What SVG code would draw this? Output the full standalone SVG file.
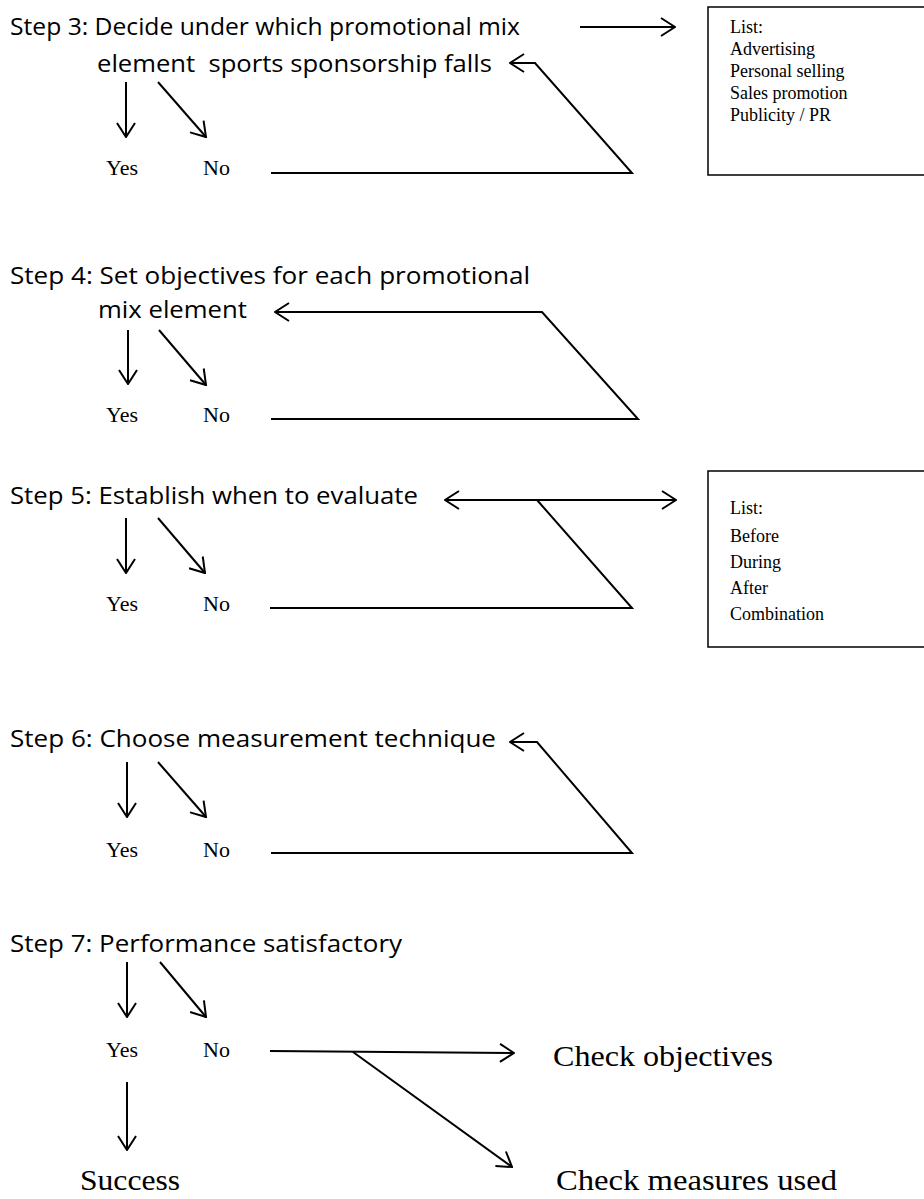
<svg xmlns="http://www.w3.org/2000/svg" width="924" height="1199" viewBox="0 0 924 1199">
<style>
.step{font-family:"Open Sans","Liberation Sans",sans-serif;font-size:24px;fill:#000;white-space:pre}
.yn{font-family:"Liberation Serif",serif;font-size:22px;fill:#000}
.lst{font-family:"Liberation Serif",serif;font-size:18px;fill:#000}
.big{font-family:"Liberation Serif",serif;font-size:30px;fill:#000}
.ln{fill:none;stroke:#000;stroke-width:2}
.box{fill:none;stroke:#000;stroke-width:1.5}
</style>
<defs>
<marker id="ah" viewBox="0 0 16 20" refX="15" refY="10" markerWidth="16" markerHeight="20" markerUnits="userSpaceOnUse" orient="auto-start-reverse">
<path d="M1,1 L15,10 L1,19" fill="none" stroke="#000" stroke-width="2"/>
</marker>
</defs>
<g id="step3">
<text class="step" x="10" y="35" textLength="510" lengthAdjust="spacingAndGlyphs">Step 3: Decide under which promotional mix</text>
<text class="step" x="97" y="72" textLength="395" lengthAdjust="spacingAndGlyphs">element  sports sponsorship falls</text>
<text class="yn" x="106" y="175">Yes</text>
<text class="yn" x="203" y="175">No</text>
</g>
<g id="list1">
<rect class="box" x="708" y="7" width="230" height="168"/>
<text class="lst" x="730" y="33">List:</text>
<text class="lst" x="730" y="55">Advertising</text>
<text class="lst" x="730" y="77">Personal selling</text>
<text class="lst" x="730" y="99">Sales promotion</text>
<text class="lst" x="730" y="121">Publicity / PR</text>
</g>
<g id="step4">
<text class="step" x="10" y="284" textLength="520" lengthAdjust="spacingAndGlyphs">Step 4: Set objectives for each promotional</text>
<text class="step" x="98" y="318" textLength="149" lengthAdjust="spacingAndGlyphs">mix element</text>
<text class="yn" x="106" y="422">Yes</text>
<text class="yn" x="203" y="422">No</text>
</g>
<g id="step5">
<text class="step" x="10" y="504" textLength="408" lengthAdjust="spacingAndGlyphs">Step 5: Establish when to evaluate</text>
<text class="yn" x="106" y="611">Yes</text>
<text class="yn" x="203" y="611">No</text>
</g>
<g id="list2">
<rect class="box" x="708" y="471" width="230" height="176"/>
<text class="lst" x="730" y="514">List:</text>
<text class="lst" x="730" y="542">Before</text>
<text class="lst" x="730" y="568">During</text>
<text class="lst" x="730" y="594">After</text>
<text class="lst" x="730" y="620">Combination</text>
</g>
<g id="step6">
<text class="step" x="10" y="747" textLength="486" lengthAdjust="spacingAndGlyphs">Step 6: Choose measurement technique</text>
<text class="yn" x="106" y="857">Yes</text>
<text class="yn" x="203" y="857">No</text>
</g>
<g id="step7">
<text class="step" x="10" y="952" textLength="392" lengthAdjust="spacingAndGlyphs">Step 7: Performance satisfactory</text>
<text class="yn" x="106" y="1057">Yes</text>
<text class="yn" x="203" y="1057">No</text>
</g>
<g id="success"><text class="big" x="80" y="1190" textLength="100" lengthAdjust="spacingAndGlyphs">Success</text></g>
<g id="checkobj"><text class="big" x="553" y="1066" textLength="220" lengthAdjust="spacingAndGlyphs">Check objectives</text></g>
<g id="checkmeas"><text class="big" x="556" y="1190" textLength="281" lengthAdjust="spacingAndGlyphs">Check measures used</text></g>
<g id="connectors">
<path class="ln" d="M580,27 L675,27" marker-end="url(#ah)"/>
<path class="ln" d="M126,82 L126,137" marker-end="url(#ah)"/>
<path class="ln" d="M158,82 L206,137" marker-end="url(#ah)"/>
<path class="ln" d="M271,173 L632,173 L535,63 L510,63" marker-end="url(#ah)"/>
<path class="ln" d="M128,330 L128,384" marker-end="url(#ah)"/>
<path class="ln" d="M159,330 L206,385" marker-end="url(#ah)"/>
<path class="ln" d="M271,419 L638,419 L542,312 L275,312" marker-end="url(#ah)"/>
<path class="ln" d="M445,500 L676,500" marker-start="url(#ah)" marker-end="url(#ah)"/>
<path class="ln" d="M270,608 L632,608 L537,500"/>
<path class="ln" d="M126,518 L126,573" marker-end="url(#ah)"/>
<path class="ln" d="M158,518 L205,573" marker-end="url(#ah)"/>
<path class="ln" d="M271,853 L632,853 L537,742 L510,742" marker-end="url(#ah)"/>
<path class="ln" d="M127,762 L127,817" marker-end="url(#ah)"/>
<path class="ln" d="M158,762 L206,817" marker-end="url(#ah)"/>
<path class="ln" d="M127,962 L127,1017" marker-end="url(#ah)"/>
<path class="ln" d="M160,962 L206,1017" marker-end="url(#ah)"/>
<path class="ln" d="M270,1051 L514,1053" marker-end="url(#ah)"/>
<path class="ln" d="M353,1052 L512,1167" marker-end="url(#ah)"/>
<path class="ln" d="M127,1082 L127,1150" marker-end="url(#ah)"/>
</g>
</svg>
